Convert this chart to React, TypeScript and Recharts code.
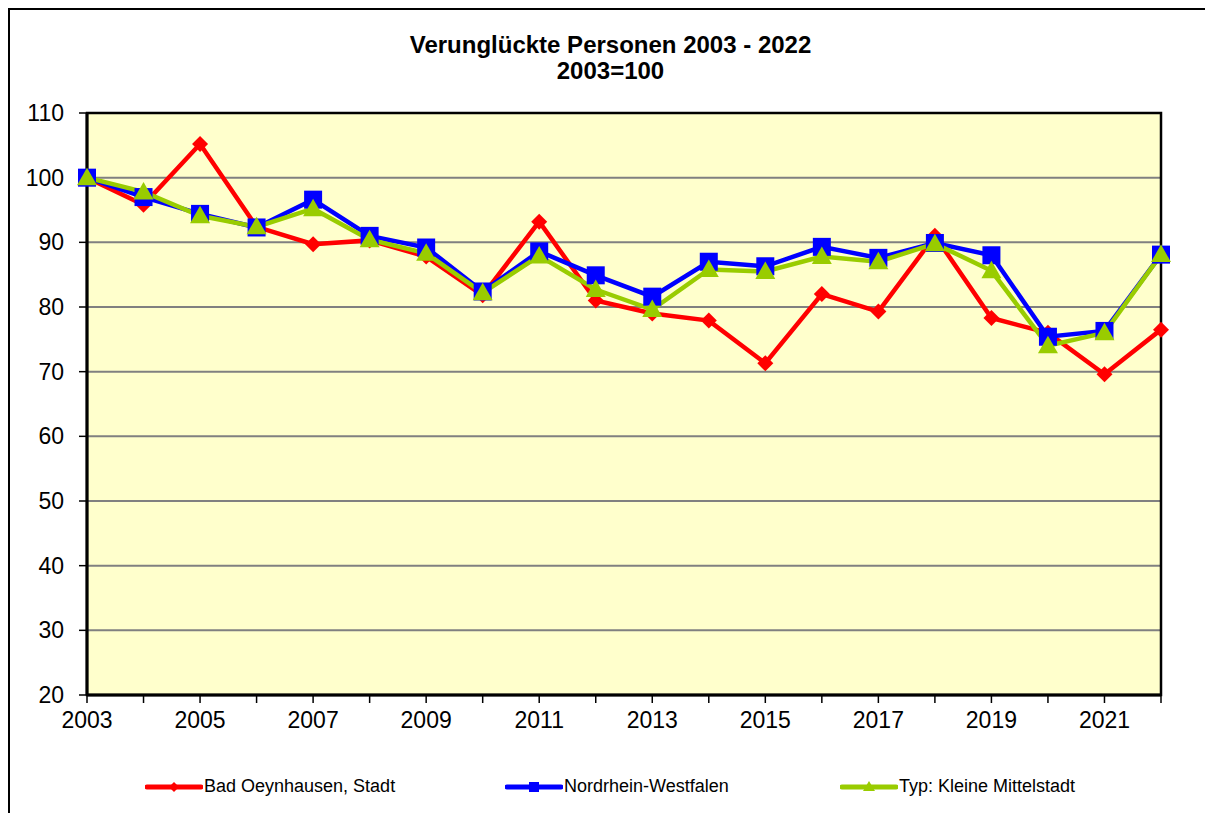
import React from "react";
import {
  LineChart,
  Line,
  XAxis,
  YAxis,
  CartesianGrid,
  ReferenceArea,
  Legend,
} from "recharts";

const years = [
  2003, 2004, 2005, 2006, 2007, 2008, 2009, 2010, 2011, 2012, 2013, 2014,
  2015, 2016, 2017, 2018, 2019, 2020, 2021, 2022,
];
const badOeynhausen = [
  100, 95.8, 105.2, 92.4, 89.7, 90.3, 87.8, 81.8, 93.2, 81.0, 79.0, 77.9,
  71.3, 82.0, 79.3, 91.0, 78.3, 76.0, 69.6, 76.5,
];
const nrw = [
  100, 97.0, 94.4, 92.3, 96.6, 91.0, 89.2, 82.4, 88.6, 84.9, 81.6, 87.0, 86.3,
  89.3, 87.6, 89.9, 88.0, 75.4, 76.3, 88.1,
];
const kleineMittelstadt = [
  100, 97.8, 94.1, 92.4, 95.2, 90.4, 88.3, 82.2, 87.9, 82.7, 79.6, 85.8, 85.5,
  87.8, 87.0, 89.8, 85.6, 74.0, 76.0, 88.1,
];
const yTicks = [20, 30, 40, 50, 60, 70, 80, 90, 100, 110];
const seriesNames = [
  "Bad Oeynhausen, Stadt",
  "Nordrhein-Westfalen",
  "Typ: Kleine Mittelstadt",
];

const RED = "#FF0000";
const BLUE = "#0000FF";
const GREEN = "#99CC00";
const FONT = "Liberation Sans, Arial, sans-serif";

const data = years.map((y, i) => ({
  year: y,
  a: badOeynhausen[i],
  b: nrw[i],
  c: kleineMittelstadt[i],
}));

const Diamond = (props: any) => {
  const { cx, cy } = props;
  if (cx == null || cy == null) return null;
  const r = 8;
  return (
    <path
      d={`M${cx},${cy - r}L${cx + r},${cy}L${cx},${cy + r}L${cx - r},${cy}Z`}
      fill={RED}
    />
  );
};

const Square = (props: any) => {
  const { cx, cy } = props;
  if (cx == null || cy == null) return null;
  const r = 9;
  return (
    <rect x={cx - r} y={cy - r} width={2 * r} height={2 * r} fill={BLUE} />
  );
};

const Triangle = (props: any) => {
  const { cx, cy } = props;
  if (cx == null || cy == null) return null;
  const r = 10;
  return (
    <path
      d={`M${cx},${cy - r}L${cx + r},${cy + r * 0.75}L${cx - r},${cy + r * 0.75}Z`}
      fill={GREEN}
    />
  );
};

const legendItems = [
  { name: seriesNames[0], color: RED, x: 137, marker: "d" },
  { name: seriesNames[1], color: BLUE, x: 497, marker: "s" },
  { name: seriesNames[2], color: GREEN, x: 832, marker: "t" },
];

const renderLegend = () => (
  <div style={{ position: "relative", height: 30 }}>
    {legendItems.map((it) => (
      <div
        key={it.name}
        style={{
          position: "absolute",
          left: it.x,
          top: 0,
          display: "flex",
          alignItems: "center",
          fontFamily: FONT,
          fontSize: 18,
          color: "#000",
        }}
      >
        <svg width={58} height={14}>
          <line x1={2} y1={7} x2={56} y2={7} stroke={it.color} strokeWidth={5} strokeLinecap="round" />
          {it.marker === "d" && <path d="M29,2L34,7L29,12L24,7Z" fill={it.color} />}
          {it.marker === "s" && <rect x={24} y={2} width={10} height={10} fill={it.color} />}
          {it.marker === "t" && <path d="M29,1L35,11L23,11Z" fill={it.color} />}
        </svg>
        <span style={{ marginLeft: 1 }}>{it.name}</span>
      </div>
    ))}
  </div>
);

const fmtX = (v: number) => (v % 2 === 1 ? String(v) : "");

export default function App() {
  return (
    <div
      style={{
        position: "relative",
        width: 1197,
        height: 813,
        marginBottom: -8,
        borderLeft: "2px solid #000",
        borderTop: "2px solid #000",
        boxSizing: "border-box",
        background: "#fff",
        overflow: "hidden",
      }}
    >
      <div
        style={{
          position: "absolute",
          left: -2,
          width: 1205,
          top: 22,
          textAlign: "center",
          fontFamily: FONT,
          fontWeight: "bold",
          fontSize: 24,
          lineHeight: "26px",
        }}
      >
        Verunglückte Personen 2003 - 2022
        <br />
        2003=100
      </div>
      <div style={{ position: "absolute", left: -2, top: -2 }}>
        <LineChart
          width={1205}
          height={813}
          data={data}
          margin={{ top: 105, right: 52, bottom: 0, left: 0 }}
          style={{ fontFamily: FONT }}
        >
          <CartesianGrid
            vertical={false}
            stroke="#808080"
            strokeWidth={2}
            fill="#FFFFCC"
            fillOpacity={1}
          />
          <XAxis
            dataKey="year"
            type="number"
            domain={[2003, 2022]}
            ticks={years}
            tickFormatter={fmtX}
            interval={0}
            height={96}
            tickSize={8}
            tickMargin={9}
            tick={{ fill: "#000", fontSize: 23 }}
            axisLine={{ stroke: "#000", strokeWidth: 3 }}
            tickLine={{ stroke: "#000", strokeWidth: 1.5 }}
          />
          <YAxis
            type="number"
            domain={[20, 110]}
            ticks={yTicks}
            interval={0}
            width={79}
            tickSize={8}
            tickMargin={15}
            tick={{ fill: "#000", fontSize: 23 }}
            axisLine={{ stroke: "#000", strokeWidth: 3 }}
            tickLine={{ stroke: "#000", strokeWidth: 1.5 }}
          />
          <ReferenceArea
            x1={2003}
            x2={2022}
            y1={20}
            y2={110}
            fill="none"
            stroke="#000"
            strokeWidth={2.5}
            ifOverflow="visible"
          />
          <Line
            dataKey="a"
            name={seriesNames[0]}
            stroke={RED}
            strokeWidth={4.5}
            dot={<Diamond />}
            activeDot={false}
            isAnimationActive={false}
          />
          <Line
            dataKey="b"
            name={seriesNames[1]}
            stroke={BLUE}
            strokeWidth={4.5}
            dot={<Square />}
            activeDot={false}
            isAnimationActive={false}
          />
          <Line
            dataKey="c"
            name={seriesNames[2]}
            stroke={GREEN}
            strokeWidth={4.5}
            dot={<Triangle />}
            activeDot={false}
            isAnimationActive={false}
          />
          <Legend
            content={renderLegend}
            wrapperStyle={{ position: "absolute", left: 0, top: 768, width: 1205 }}
          />
        </LineChart>
      </div>
    </div>
  );
}
